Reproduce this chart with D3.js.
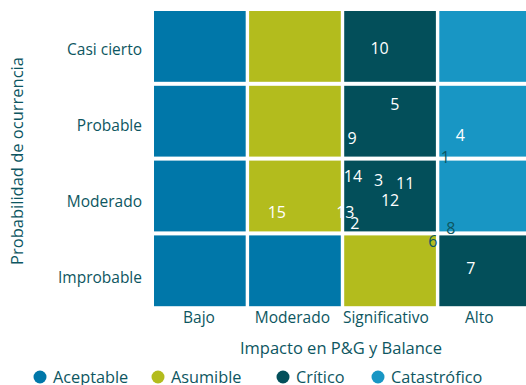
<!DOCTYPE html>
<html>
<head>
<meta charset="utf-8">
<script src="https://cdn.jsdelivr.net/npm/d3@7"></script>
<style>
  html, body { margin: 0; padding: 0; background: #ffffff; }
  svg { display: block; font-family: "Open Sans", "Noto Sans", sans-serif; }
</style>
</head>
<body>
<svg id="chart" width="526" height="385"></svg>
<script>
// Risk matrix: impact (columns) by probability (rows)
const impactos = ["Bajo", "Moderado", "Significativo", "Alto"];
const probabilidades = ["Casi cierto", "Probable", "Moderado", "Improbable"];
const niveles = ["Aceptable", "Asumible", "Crítico", "Catastrófico"];

// Level of each cell, rows from "Casi cierto" down to "Improbable"
const matrizNiveles = [
  ["Aceptable", "Asumible", "Crítico", "Catastrófico"],
  ["Aceptable", "Asumible", "Crítico", "Catastrófico"],
  ["Aceptable", "Asumible", "Crítico", "Catastrófico"],
  ["Aceptable", "Aceptable", "Asumible", "Crítico"]
];

// Risks: id, impact score (0–4), probability score (0–4)
const riesgos = ["1", "2", "3", "4", "5", "6", "7", "8", "9", "10", "11", "12", "13", "14", "15"];
const impactoRiesgo = [3.08, 2.13, 2.38, 3.24, 2.55, 2.95, 3.35, 3.14, 2.10, 2.39, 2.66, 2.50, 2.03, 2.11, 1.31];
const probabilidadRiesgo = [2.02, 1.14, 1.72, 2.32, 2.73, 0.90, 0.54, 1.07, 2.28, 3.48, 1.67, 1.44, 1.28, 1.77, 1.29];

const colores = d3.scaleOrdinal()
  .domain(niveles)
  .range(["#0077a9", "#b3bc1d", "#034f5a", "#1896c4"]);

const textoOscuro = "#0d5661";
const svg = d3.select("#chart");

// Cell layout
const xBand = d3.scaleBand().domain(impactos).range([152.3, 532.7]).paddingInner(0.036).paddingOuter(0.018);
const yBand = d3.scaleBand().domain(probabilidades).range([9, 308.2]).paddingInner(0.0535).paddingOuter(0.0267);

// Continuous scores across the same extent
const x = d3.scaleLinear().domain([0, 4]).range([152.3, 532.7]);
const y = d3.scaleLinear().domain([0, 4]).range([308.2, 9]);

const celdas = [];
probabilidades.forEach((p, i) => impactos.forEach((im, j) => celdas.push({ p, im, nivel: matrizNiveles[i][j] })));

svg.append("g").selectAll("rect")
  .data(celdas)
  .join("rect")
  .attr("x", d => xBand(d.im))
  .attr("y", d => yBand(d.p))
  .attr("width", xBand.bandwidth())
  .attr("height", yBand.bandwidth())
  .attr("fill", d => colores(d.nivel));

// Risk labels; those sitting on a cell border are drawn dark
const enBorde = new Set(["1", "6", "8"]);
svg.append("g").selectAll("text")
  .data(riesgos.map((id, i) => ({ id, ix: impactoRiesgo[i], pr: probabilidadRiesgo[i] })))
  .join("text")
  .attr("x", d => x(d.ix))
  .attr("y", d => y(d.pr))
  .attr("text-anchor", "middle")
  .attr("dominant-baseline", "central")
  .attr("font-size", 16)
  .attr("fill", d => enBorde.has(d.id) ? textoOscuro : "#ffffff")
  .text(d => d.id);

// Axes
const xEje = d3.scaleBand().domain(impactos).range([152.3, 526]);
const yEje = d3.scaleBand().domain(probabilidades).range([12, 316]);

const gx = svg.append("g")
  .attr("transform", "translate(0,309)")
  .call(d3.axisBottom(xEje).tickSize(0).tickPadding(3));
gx.select(".domain").remove();
gx.selectAll("text")
  .attr("font-size", 15.5)
  .attr("font-family", "Open Sans, sans-serif")
  .attr("fill", textoOscuro);

const gy = svg.append("g")
  .attr("transform", "translate(142,0)")
  .call(d3.axisLeft(yEje).tickSize(0).tickPadding(0));
gy.select(".domain").remove();
gy.selectAll("text")
  .attr("font-size", 15.5)
  .attr("font-family", "Open Sans, sans-serif")
  .attr("fill", textoOscuro);

svg.append("text")
  .attr("x", 341)
  .attr("y", 347)
  .attr("text-anchor", "middle")
  .attr("dominant-baseline", "central")
  .attr("font-size", 16.5)
  .attr("fill", textoOscuro)
  .text("Impacto en P&G y Balance");

svg.append("text")
  .attr("transform", "translate(16,161) rotate(-90)")
  .attr("text-anchor", "middle")
  .attr("dominant-baseline", "central")
  .attr("font-size", 16.5)
  .attr("fill", textoOscuro)
  .text("Probabilidad de ocurrencia");

// Legend: one marker + label per level, in fixed slots along the bottom
const posLeyenda = [40, 158, 283, 378];
const leyenda = svg.append("g").attr("transform", "translate(0,377)");
const items = leyenda.selectAll("g")
  .data(niveles)
  .join("g")
  .attr("transform", (d, i) => `translate(${posLeyenda[i]},0)`);
items.append("circle").attr("r", 6.5).attr("fill", d => colores(d));
items.append("text")
  .attr("x", 13)
  .attr("dominant-baseline", "central")
  .attr("font-size", 16.3)
  .attr("fill", textoOscuro)
  .text(d => d);
</script>
</body>
</html>
